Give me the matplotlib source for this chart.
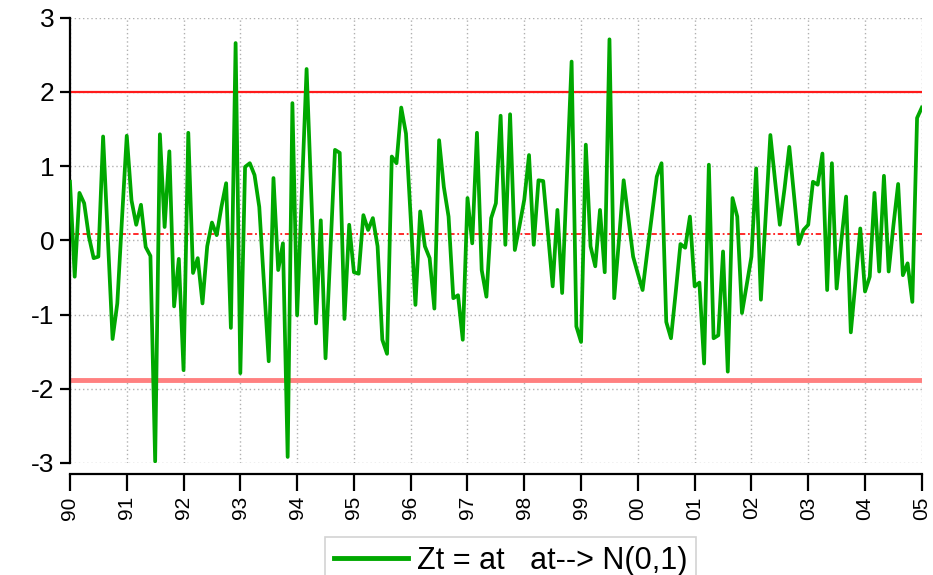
import numpy as np
import matplotlib
matplotlib.use("Agg")
import matplotlib.pyplot as plt

plt.rcParams['font.family'] = ['Liberation Sans Narrow', 'Liberation Sans', 'DejaVu Sans']

# monthly standardised series, 1990M01 .. 2005M01
zt = [
    0.79, -0.49, 0.64, 0.50, 0.05, -0.24, -0.22, 1.40, 0.05, -1.33, -0.85, 0.30,    # 1990
    1.41, 0.54, 0.21, 0.48, -0.09, -0.21, -2.98, 1.43, 0.18, 1.20, -0.89, -0.25,    # 1991
    -1.75, 1.45, -0.44, -0.24, -0.85, -0.08, 0.24, 0.07, 0.45, 0.77, -1.18, 2.66,   # 1992
    -1.79, 0.99, 1.04, 0.88, 0.45, -0.60, -1.63, 0.84, -0.40, -0.04, -2.92, 1.85,   # 1993
    -1.01, 0.65, 2.31, 0.60, -1.12, 0.27, -1.59, -0.20, 1.22, 1.18, -1.06, 0.21,    # 1994
    -0.43, -0.45, 0.34, 0.14, 0.30, -0.08, -1.34, -1.53, 1.13, 1.04, 1.79, 1.44,    # 1995
    0.30, -0.87, 0.39, -0.08, -0.24, -0.92, 1.35, 0.72, 0.32, -0.78, -0.74, -1.34,  # 1996
    0.57, -0.04, 1.45, -0.40, -0.76, 0.30, 0.50, 1.68, -0.06, 1.70, -0.13, 0.20,    # 1997
    0.55, 1.15, -0.06, 0.81, 0.80, 0.10, -0.62, 0.41, -0.71, 0.85, 2.41, -1.16,     # 1998
    -1.37, 1.29, -0.08, -0.35, 0.41, -0.43, 2.71, -0.78, 0.00, 0.81, 0.30, -0.22,   # 1999
    -0.45, -0.67, -0.15, 0.35, 0.86, 1.04, -1.10, -1.32, -0.70, -0.05, -0.10, 0.32, # 2000
    -0.62, -0.57, -1.66, 1.02, -1.32, -1.28, -0.15, -1.77, 0.57, 0.32, -0.98, -0.60,# 2001
    -0.22, 0.97, -0.80, 0.30, 1.42, 0.80, 0.21, 0.70, 1.26, 0.60, -0.05, 0.14,      # 2002
    0.21, 0.79, 0.75, 1.17, -0.67, 1.04, -0.65, 0.00, 0.59, -1.24, -0.55, 0.16,     # 2003
    -0.69, -0.49, 0.64, -0.42, 0.87, -0.42, 0.20, 0.76, -0.47, -0.31, -0.83, 1.65,  # 2004
    1.79,                                                                           # 2005
]
start_year = 1990
years = list(range(1990, 2006))
year_labels = ['90', '91', '92', '93', '94', '95', '96', '97',
               '98', '99', '00', '01', '02', '03', '04', '05']
yticks = [-3, -2, -1, 0, 1, 2, 3]

upper_band = 2.00
lower_band = -1.88
mean_line = 0.09

t = start_year + np.arange(len(zt)) / 12.0

fig = plt.figure(figsize=(9.33, 5.75), dpi=100)
ax = fig.add_axes([0.075, 0.195, 0.913, 0.774])

# spine placement first: moving a spine resets its ticks
for s in ['top', 'right']:
    ax.spines[s].set_visible(False)
ax.spines['bottom'].set_position(('outward', 8))
ax.spines['left'].set_linewidth(1.6)
ax.spines['bottom'].set_linewidth(1.6)

ax.grid(True, color='#b0b0b0', linestyle=(0, (1, 2)), linewidth=1.0)
ax.set_axisbelow(True)

ax.axhline(upper_band, color='#ff1a1a', linewidth=1.6, zorder=2)
ax.axhline(lower_band, color='#ff8080', linewidth=3.5, zorder=2)
ax.axhline(mean_line, color='#ff1a1a', linewidth=1.3,
           linestyle=(0, (3, 1.5, 1, 1.5)), zorder=2)

ax.plot(t, zt, color='#00a800', linewidth=2.7, zorder=3,
        label='Zt = at   at--> N(0,1)')

ax.set_xlim(1990, 2005)
ax.set_ylim(-3, 3)
ax.set_xticks(years)
ax.set_xticklabels(year_labels, rotation=90, fontsize=15)
ax.set_yticks(yticks)
ax.set_yticklabels([str(v) for v in yticks], fontsize=19)
ax.tick_params(axis='x', length=12, width=1.6, pad=4)
ax.tick_params(axis='y', length=7, width=1.6, pad=4)

leg = fig.legend(loc='upper left', bbox_to_anchor=(0.332, 0.093),
                 fontsize=22, frameon=True, fancybox=False,
                 handlelength=2.4, handletextpad=0.3, borderpad=0.3)
leg.get_frame().set_edgecolor('#c8c8c8')
leg.get_frame().set_linewidth(1.2)
for h in leg.get_lines():
    h.set_linewidth(3.5)

fig.savefig('out.png', dpi=100)
